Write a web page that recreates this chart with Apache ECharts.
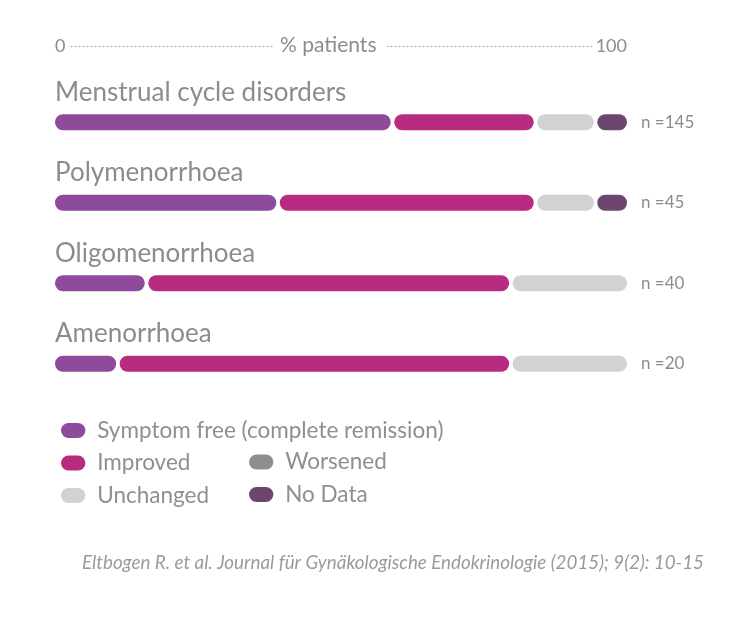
<!DOCTYPE html>
<html>
<head>
<meta charset="utf-8">
<script src="https://cdn.jsdelivr.net/npm/echarts@6/dist/echarts.min.js"></script>
<style>
html,body{margin:0;padding:0;background:#fff;}
#chart{width:750px;height:626px;}
</style>
</head>
<body>
<div id="chart"></div>
<script>
const categories = ['Menstrual cycle disorders', 'Polymenorrhoea', 'Oligomenorrhoea', 'Amenorrhoea'];
const nValues = [145, 45, 40, 20];
const seriesNames = ['Symptom free (complete remission)', 'Improved', 'Unchanged', 'Worsened', 'No Data'];
const symptomFree = [59, 39, 16, 11];
const improved = [25, 45, 63.7, 68.7];
const unchanged = [10.5, 10.5, 20.3, 20.3];
const worsened = [0, 0, 0, 0];
const noData = [5.5, 5.5, 0, 0];
const axisTicks = [0, 100];
const axisTitle = '% patients';
const citation = 'Eltbogen R. et al. Journal für Gynäkologische Endokrinologie (2015); 9(2): 10-15';

const colors = ['#8e4b9b', '#b72b80', '#d1d2d4', '#8d8e92', '#6c466f'];
const valueSets = [symptomFree, improved, unchanged, worsened, noData];
const FONT = 'Lato';
const GREY = '#8c8c8c';

function buildData(k) {
  return categories.map((c, i) => {
    let start = 0;
    for (let j = 0; j < k; j++) start += valueSets[j][i];
    let total = 0;
    for (let j = 0; j < valueSets.length; j++) total += valueSets[j][i];
    return [i, start, start + valueSets[k][i], total];
  });
}

const BAR_H = 16, GAP = 3.5;
function renderItem(params, api) {
  const cat = api.value(0), s = api.value(1), e = api.value(2), tot = api.value(3);
  if (e - s <= 0) return null;
  const p0 = api.coord([s, cat]);
  const p1 = api.coord([e, cat]);
  let x0 = p0[0] + (s > 0.001 ? GAP / 2 : 0);
  let x1 = p1[0] - (e < tot - 0.001 ? GAP / 2 : 0);
  return {
    type: 'rect',
    shape: { x: x0, y: p0[1] - BAR_H / 2, width: x1 - x0, height: BAR_H, r: BAR_H / 2 },
    style: { fill: api.visual('color') }
  };
}

const pill = 'path://M8,0L18,0A8,8,0,0,1,18,16L8,16A8,8,0,0,1,8,0Z';
const legendText = { fontFamily: FONT, fontSize: 22.5, color: '#8f8f8f', lineHeight: 22, padding: [0, 0, 0, 6] };

const chart = echarts.init(document.getElementById('chart'), null, { renderer: 'canvas' });
chart.setOption({
  backgroundColor: '#fff',
  animation: false,
  grid: { left: 55, right: 123, top: 82, height: 322, containLabel: false },
  xAxis: {
    type: 'value', min: axisTicks[0], max: axisTicks[1], interval: 100,
    position: 'top', offset: 36,
    axisLine: { show: true, lineStyle: { color: '#9a9a9a', type: [1, 3], width: 1.2 } },
    axisTick: { show: false },
    splitLine: { show: false },
    axisLabel: {
      margin: 0, verticalAlign: 'middle',
      alignMinLabel: 'left', alignMaxLabel: 'right',
      formatter: v => v === axisTicks[0] ? '{a|' + v + '}' : '{b|' + v + '}',
      rich: {
        a: { fontFamily: FONT, fontSize: 18, color: GREY, backgroundColor: '#fff', padding: [3, 3, 3, 0] },
        b: { fontFamily: FONT, fontSize: 18, color: GREY, backgroundColor: '#fff', padding: [3, 0, 3, 3] }
      }
    }
  },
  yAxis: [{
    type: 'category', data: categories, inverse: true,
    axisLine: { show: false }, axisTick: { show: false },
    axisLabel: {
      inside: true, margin: 0, align: 'left', verticalAlign: 'bottom',
      padding: [0, 0, 17, 0],
      fontFamily: FONT, fontSize: 26, color: GREY
    }
  }, {
    type: 'category', data: categories, inverse: true, position: 'right',
    axisLine: { show: false }, axisTick: { show: false },
    axisLabel: {
      margin: 14, align: 'left',
      formatter: (v, i) => 'n =' + nValues[i],
      fontFamily: FONT, fontSize: 17, color: GREY
    }
  }],
  legend: [{
    left: 56, top: 414, orient: 'vertical',
    itemWidth: 26, itemHeight: 15, itemGap: 9.5,
    data: [seriesNames[0], seriesNames[1], seriesNames[2]].map(n => ({ name: n, icon: pill })),
    textStyle: legendText,
    selectedMode: false
  }, {
    left: 244, top: 445.5, orient: 'vertical',
    itemWidth: 26, itemHeight: 15, itemGap: 9.5,
    data: [seriesNames[3], seriesNames[4]].map(n => ({ name: n, icon: pill })),
    textStyle: legendText,
    selectedMode: false
  }],
  graphic: [{
    type: 'text', left: 273, top: 33, z: 100,
    style: { text: axisTitle, fontFamily: FONT, fontSize: 21, fill: GREY, backgroundColor: '#fff', padding: [2, 10, 2, 7] }
  }, {
    type: 'text', right: 46, top: 553,
    style: { text: citation, fontFamily: FONT, fontStyle: 'italic', fontSize: 18.8, fill: '#9a9a9a' }
  }],
  series: seriesNames.map((name, k) => ({
    type: 'custom', name: name,
    itemStyle: { color: colors[k] },
    renderItem: renderItem,
    encode: { x: [1, 2], y: 0 },
    data: buildData(k)
  }))
});
</script>
</body>
</html>
